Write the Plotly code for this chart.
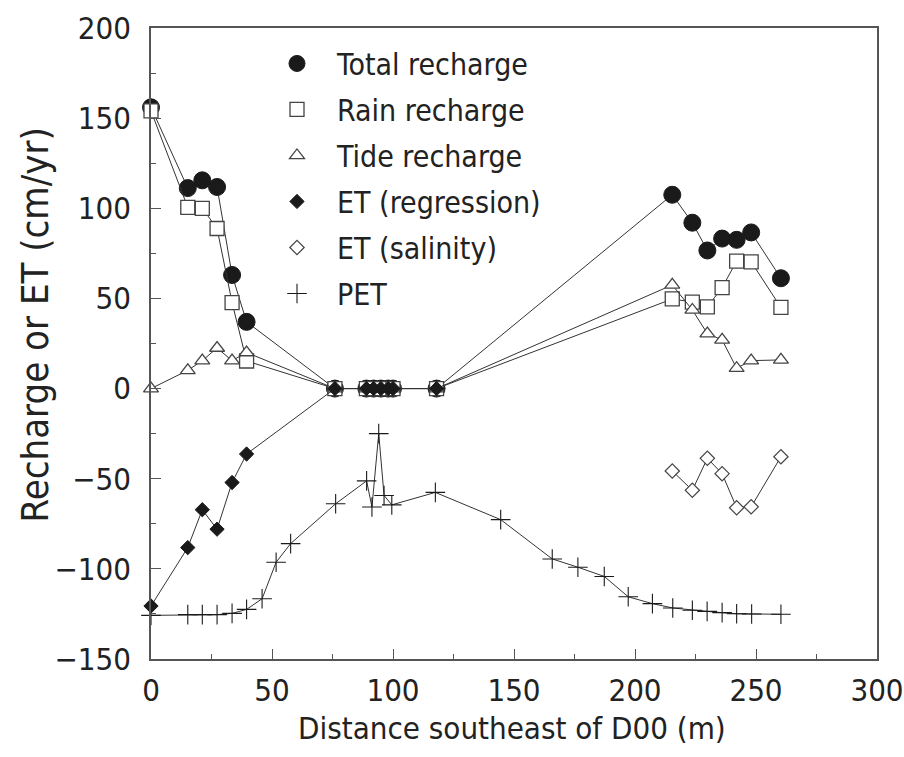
import plotly.graph_objects as go

# Distance southeast of D00 (m) for each sampled station
dist_recharge = [0, 15.2, 21.2, 27.3, 33.5, 39.5, 76, 89, 92, 95, 98, 100, 118,
                 215.4, 223.7, 229.9, 236, 242, 248, 260.3]
total_recharge = [156, 111.2, 115.5, 111.8, 63, 37, 0, 0, 0, 0, 0, 0, 0,
                  107.5, 92, 76.6, 83.2, 82.5, 86.6, 61.2]
rain_recharge = [154, 100.5, 100, 88.8, 47.7, 15.3, 0, 0, 0, 0, 0, 0, 0,
                 49.7, 48, 45.3, 56, 70.7, 70.3, 45]
tide_recharge = [0, 10.1, 15.5, 22.5, 15.5, 20, 0, 0, 0, 0, 0, 0, 0,
                 57.5, 43.6, 30.5, 27, 11.3, 15.5, 15.9]

dist_et_reg = [0, 15.2, 21.2, 27.3, 33.5, 39.5, 76, 89, 92, 95, 98, 100, 118]
et_regression = [-120.6, -88.2, -67.2, -78, -52.1, -36.3, 0, 0, 0, 0, 0, 0, 0]

dist_et_sal = [215.4, 223.7, 229.9, 236, 242, 248, 260.3]
et_salinity = [-45.7, -56.4, -38.7, -47.2, -66.1, -65.6, -37.8]

dist_pet = [0, 15.2, 21.2, 27.3, 33.5, 39.5, 45.9, 51.7, 57.7, 76.3, 89.1, 91.3,
            94.1, 96.3, 99.5, 117.5, 144.5, 165.8, 176.4, 187.3, 197.2, 207.2,
            215.6, 223.7, 229.8, 236, 242, 248.2, 260.3]
pet = [-125.8, -125.4, -125.4, -125.4, -124.7, -122.5, -116.6, -96.3, -86,
       -63.9, -51.2, -65.7, -25, -59.3, -64.5, -57.6, -72.7, -94.5, -99.1,
       -104.2, -115.5, -119.3, -121.7, -123, -123.6, -124.3, -124.9, -125,
       -125.2]

x_ticks = [0, 50, 100, 150, 200, 250, 300]
y_ticks = [-150, -100, -50, 0, 50, 100, 150, 200]
y_tick_text = ["\u2212150", "\u2212100", "\u221250", "0", "50", "100", "150", "200"]

x_title = "Distance southeast of D00 (m)"
y_title = "Recharge or ET (cm/yr)"

FONT = "Liberation Sans Narrow, DejaVu Sans Condensed, Arial Narrow, sans-serif"
LINE = dict(color="#333333", width=1)
INK = "#1a1a1a"
EDGE = "#444444"
TEXT = "#222222"

series = [
    dict(name="Total recharge", x=dist_recharge, y=total_recharge,
         marker=dict(symbol="circle", size=17, color=INK, line=dict(color=INK, width=1))),
    dict(name="Rain recharge", x=dist_recharge, y=rain_recharge,
         marker=dict(symbol="square", size=14, color="white", line=dict(color=EDGE, width=1.3))),
    dict(name="Tide recharge", x=dist_recharge, y=tide_recharge,
         marker=dict(symbol="triangle-up", size=13, color="white", line=dict(color=EDGE, width=1.3))),
    dict(name="ET (regression)", x=dist_et_reg, y=et_regression,
         marker=dict(symbol="diamond", size=11, color=INK, line=dict(color=INK, width=1))),
    dict(name="ET (salinity)", x=dist_et_sal, y=et_salinity,
         marker=dict(symbol="diamond", size=11, color="white", line=dict(color=EDGE, width=1.2))),
    dict(name="PET", x=dist_pet, y=pet,
         marker=dict(symbol="cross-thin", size=14, color=INK, line=dict(color=INK, width=1.1))),
]

fig = go.Figure()
for s in series:
    fig.add_trace(go.Scatter(x=s["x"], y=s["y"], mode="lines+markers", line=LINE,
                             marker=s["marker"], showlegend=False, cliponaxis=False,
                             hoverinfo="x+y", name=s["name"]))
# legend entries show the symbol only
for i, s in enumerate(series):
    fig.add_trace(go.Scatter(x=[None], y=[None], mode="markers", marker=s["marker"],
                             name=s["name"], legendgroup=f"g{i}", showlegend=True))

minor = dict(ticks="inside", ticklen=5, tickwidth=1, tickcolor="#555555",
             showgrid=False, dtick=25, tick0=0)
axis_common = dict(
    showline=True, linecolor="#555555", linewidth=1.5, mirror=True,
    ticks="inside", ticklen=10, tickwidth=1, tickcolor="#555555",
    showgrid=False, zeroline=False, automargin=False,
    tickfont=dict(family=FONT, size=31, color=TEXT),
    minor=minor,
)

fig.update_layout(
    width=904, height=757,
    margin=dict(l=151, r=27, t=28, b=98),
    paper_bgcolor="white", plot_bgcolor="white",
    font=dict(family=FONT, color=TEXT),
    xaxis=dict(range=[0, 300], tickvals=x_ticks, ticklabelstandoff=3, **axis_common),
    yaxis=dict(range=[-150, 200], tickvals=y_ticks, ticktext=y_tick_text,
               ticklabelstandoff=12, **axis_common),
    legend=dict(x=0.146, y=0.985, xanchor="left", yanchor="top",
                font=dict(family=FONT, size=30, color=TEXT),
                itemwidth=70, tracegroupgap=4, bgcolor="rgba(0,0,0,0)",
                itemsizing="trace"),
    annotations=[
        dict(text=x_title, xref="paper", yref="paper", x=0.497, y=-0.077,
             xanchor="center", yanchor="top", showarrow=False,
             font=dict(family=FONT, size=31, color=TEXT)),
        dict(text=y_title, xref="paper", yref="paper", x=-0.16, y=0.53,
             xanchor="center", yanchor="middle", showarrow=False, textangle=-90,
             font=dict(family=FONT, size=38, color=TEXT)),
    ],
)

fig.write_html("out.html")
